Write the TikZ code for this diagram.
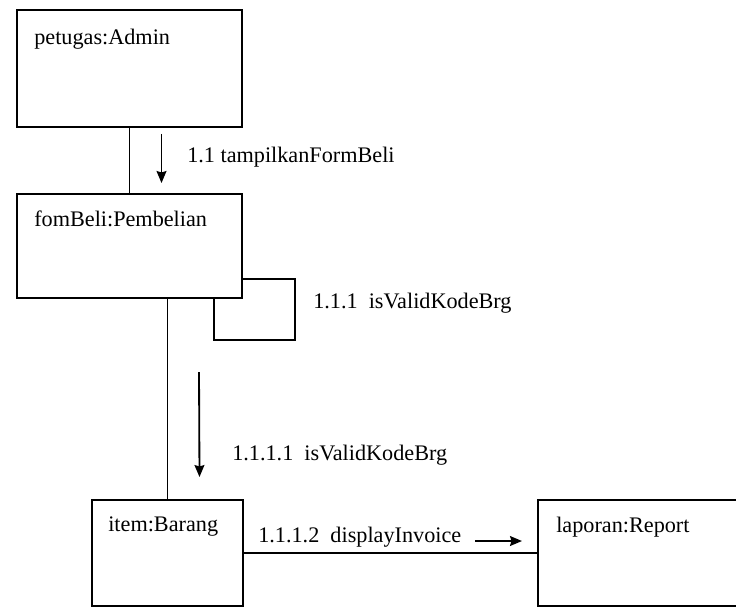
\documentclass[tikz,border=0pt]{standalone}
\usepackage{fontspec}
\setmainfont{Liberation Serif}
\usepackage{tikz}
\usetikzlibrary{arrows, arrows.meta, positioning, shapes}

\begin{document}
\begin{tikzpicture}[
    objbox/.style={rectangle, draw, line width=1.4pt, minimum width=5.625cm, minimum height=2.6cm, inner sep=0pt},
    objname/.style={anchor=west, inner sep=0pt, font=\fontsize{15.8}{18}\selectfont},
    msglabel/.style={anchor=west, inner sep=0pt, font=\fontsize{15.8}{18}\selectfont},
    link/.style={line width=1.4pt},
    msg/.style={-{Stealth[length=8.5pt, width=7pt, inset=1pt]}, line width=1.3pt}
]
    \useasboundingbox (0,0) rectangle (18.4,-15.2);
    \clip (0,0) rectangle (18.4,-15.2);

    % Objects
    \node[objbox, minimum height=2.925cm] (admin) at (3.2375, -1.7125) {};
    \node[objbox] (pembelian) at (3.2375, -6.15) {};
    \node[objbox, minimum width=3.775cm, minimum height=2.65cm] (barang) at (4.1875, -13.825) {};
    \node[objbox, minimum width=5.55cm, minimum height=2.65cm] (report) at (16.225, -13.825) {};

    % Object names
    \node[objname] (adminname) at ([xshift=0.45cm, yshift=-0.75cm]admin.north west) {petugas:Admin};
    \node[objname] (pembelianname) at ([xshift=0.45cm, yshift=-0.65cm]pembelian.north west) {fomBeli:Pembelian};
    \node[objname] (barangname) at ([xshift=0.425cm, yshift=-0.7cm]barang.north west) {item:Barang};
    \node[objname] (reportname) at ([xshift=0.475cm, yshift=-0.7cm]report.north west) {laporan:Report};

    % Links
    \draw[link] (admin) -- (pembelian);
    \draw[link] (barang.north) -- (barang.north |- pembelian.south);
    \draw[link] (barang) -- (report);
    \draw[link] ([yshift=-0.825cm]pembelian.east) -- ++(1.3,0)
        |- ([xshift=-0.725cm, yshift=-1.025cm]pembelian.south east)
        -- ([xshift=-0.725cm]pembelian.south east);

    % Messages
    \coordinate (m11a) at ([xshift=0.8cm, yshift=-0.15cm]admin.south);
    \coordinate (m11b) at ([xshift=0.8cm, yshift=0.25cm]pembelian.north);
    \draw[msg] (m11a) -- (m11b);
    \node[msglabel] (m11) at (4.675, -3.925) {1.1 tampilkanFormBeli};

    \node[msglabel] (m111) at (7.825, -7.575) {1.1.1\ \ isValidKodeBrg};

    \coordinate (m1111a) at (4.975, -9.3);
    \coordinate (m1111b) at ([xshift=0.8cm, yshift=0.55cm]barang.north);
    \draw[msg] (m1111a) -- (m1111b);
    \node[msglabel] (m1111) at (5.8, -11.375) {1.1.1.1\ \ isValidKodeBrg};

    \coordinate (m1112a) at (11.875, -13.525);
    \coordinate (m1112b) at (13.05, -13.525);
    \draw[msg] (m1112a) -- (m1112b);
    \node[msglabel] (m1112) at (6.45, -13.425) {1.1.1.2\ \ displayInvoice};
\end{tikzpicture}
\end{document}
